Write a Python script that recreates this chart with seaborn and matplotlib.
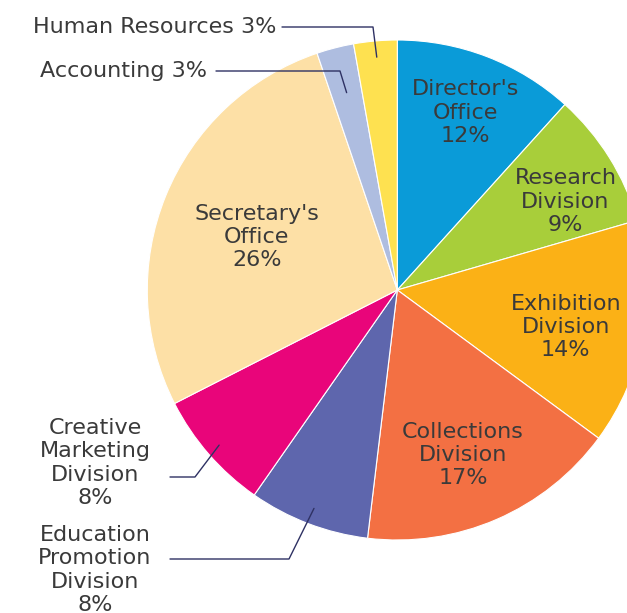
import numpy as np
import seaborn as sns
from matplotlib import pyplot as plt

sns.set_theme(style="white")
plt.rcParams['font.family'] = ['DejaVu Sans']

departments = ["Director's Office", "Research Division", "Exhibition Division",
               "Collections Division", "Education Promotion Division",
               "Creative Marketing Division", "Secretary's Office",
               "Accounting", "Human Resources"]
shares = [11.7, 8.8, 14.6, 16.8, 7.8, 7.8, 27.3, 2.4, 2.8]
labels = ["Director's\nOffice\n12%", "Research\nDivision\n9%", "Exhibition\nDivision\n14%",
          "Collections\nDivision\n17%", "Education\nPromotion\nDivision\n8%",
          "Creative\nMarketing\nDivision\n8%", "Secretary's\nOffice\n26%",
          "Accounting 3%", "Human Resources 3%"]
colors = ["#0a9bd8", "#a8ce3a", "#fbb116", "#f37043", "#5e66ad",
          "#e9057a", "#fde0a6", "#aebde0", "#fee150"]

# pixel layout of the reference: pie centre and radius
cx, cy, R = 397.3, 290, 250
W, H = 627, 613

def px(x, y):
    return x - cx, cy - y

fig = plt.figure(figsize=(W / 100, H / 100), dpi=100)
ax = fig.add_axes([0, 0, 1, 1])
wedges, _ = ax.pie(shares, colors=colors, startangle=90, counterclock=False,
                   radius=R, wedgeprops={"edgecolor": "white", "linewidth": 0.8})
ax.set_aspect("auto")
ax.set_xlim(-cx, W - cx)
ax.set_ylim(cy - H, cy)
ax.axis("off")

txt = "#3a3a3a"
line = "#2e3163"

def mid(w, frac, shift=0):
    # shift in degrees, clockwise
    a = np.deg2rad((w.theta1 + w.theta2) / 2 - shift)
    return frac * R * np.cos(a), frac * R * np.sin(a)

# labels inside the wedges: wedge -> (radius fraction, angle shift)
inside = {0: (0.76, 0), 1: (0.76, 4.3), 2: (0.69, 2.3), 3: (0.71, 1.7), 6: (0.60, -1.5)}
for i, (f, s) in inside.items():
    x, y = mid(wedges[i], f, s)
    ax.text(x, y, labels[i], ha="center", va="center", fontsize=16,
            color=txt, linespacing=1.2)

# labels outside with leader lines: (wedge, depth, elbow, line end, text pos, ha)
outside = [
    (8, 0.935, (373, 27), (282, 27), (276, 27), "right"),
    (7, 0.815, (340, 71), (216, 71), (207, 71), "right"),
    (5, 0.945, (195, 477), (170, 477), (95, 463), "center"),
    (4, 0.935, (289, 559), (170, 559), (95, 570), "center"),
]
for i, f, elbow, end, pos, ha in outside:
    x0, y0 = mid(wedges[i], f)
    ex, ey = px(*elbow)
    lx, ly = px(*end)
    ax.plot([x0, ex, lx], [y0, ey, ly], color=line, lw=1)
    tx, ty = px(*pos)
    ax.text(tx, ty, labels[i], ha=ha, va="center", fontsize=16,
            color=txt, linespacing=1.2)

fig.savefig("out.png", dpi=100)
